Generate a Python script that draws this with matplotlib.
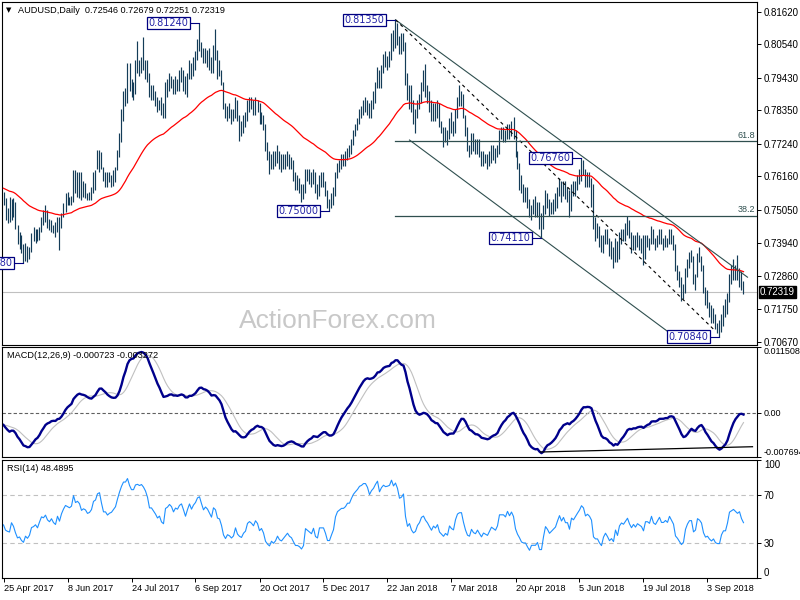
import numpy as np
import pandas as pd
import matplotlib
matplotlib.use('Agg')
import matplotlib.pyplot as plt
from matplotlib.transforms import blended_transform_factory

plt.rcParams['font.family'] = ['Liberation Sans', 'DejaVu Sans']

# AUDUSD daily bars, 25 Apr 2017 .. 27 Sep 2018, prices in pips (x 1e-4)
highs = [
    7563, 7545, 7510, 7547, 7540, 7544, 7530, 7455, 7430, 7420,
    7390, 7394, 7385, 7380, 7427, 7447, 7440, 7440, 7447, 7480,
    7503, 7520, 7503, 7475, 7470, 7454, 7464, 7480, 7480, 7495,
    7527, 7560, 7563, 7547, 7550, 7636, 7636, 7630, 7630, 7630,
    7600, 7595, 7560, 7562, 7580, 7630, 7636, 7703, 7703, 7695,
    7646, 7630, 7630, 7630, 7620, 7636, 7646, 7703, 7760, 7840,
    7900, 7910, 7990, 7990, 7940, 7930, 8000, 8065, 8000, 8010,
    8078, 8000, 8000, 7960, 7920, 7920, 7900, 7880, 7870, 7880,
    7860, 7930, 7940, 7960, 7950, 7940, 7950, 7940, 7970, 7980,
    7970, 7950, 7960, 8000, 7990, 8010, 8030, 8070, 8124, 8060,
    8040, 8040, 8035, 8040, 8010, 8050, 8103, 8035, 8000, 7970,
    7930, 7860, 7850, 7860, 7840, 7840, 7880, 7870, 7820, 7800,
    7820, 7830, 7870, 7880, 7880, 7870, 7880, 7870, 7860, 7830,
    7820, 7790, 7730, 7700, 7690, 7700, 7700, 7720, 7700, 7690,
    7690, 7690, 7700, 7690, 7680, 7670, 7630, 7620, 7610, 7590,
    7590, 7640, 7640, 7640, 7630, 7640, 7630, 7590, 7620, 7630,
    7630, 7600, 7570, 7540, 7560, 7580, 7630, 7660, 7670, 7690,
    7690, 7700, 7710, 7720, 7740, 7770, 7790, 7810, 7840, 7850,
    7870, 7880, 7870, 7860, 7870, 7900, 7930, 7980, 7970, 7985,
    8020, 8030, 8015, 8030, 8090, 8100, 8135, 8124, 8080, 8090,
    8090, 8060, 7960, 7920, 7920, 7870, 7840, 7870, 7890, 7930,
    7968, 7988, 7920, 7900, 7870, 7860, 7860, 7870, 7860, 7800,
    7780, 7780, 7770, 7810, 7830, 7800, 7840, 7880, 7917, 7900,
    7890, 7820, 7780, 7720, 7760, 7760, 7740, 7740, 7740, 7700,
    7700, 7690, 7690, 7700, 7720, 7720, 7710, 7720, 7770, 7780,
    7780, 7770, 7790, 7790, 7800, 7813, 7770, 7700, 7660, 7620,
    7590, 7580, 7580, 7540, 7520, 7540, 7550, 7530, 7530, 7495,
    7520, 7570, 7560, 7540, 7530, 7540, 7560, 7580, 7610, 7600,
    7600, 7600, 7580, 7570, 7590, 7600, 7600, 7620, 7640, 7676,
    7670, 7640, 7630, 7630, 7610, 7590, 7480, 7460, 7450, 7420,
    7420, 7440, 7440, 7410, 7400, 7380, 7410, 7400, 7430, 7440,
    7440, 7460, 7484, 7470, 7430, 7420, 7420, 7430, 7420, 7410,
    7420, 7420, 7420, 7410, 7450, 7440, 7410, 7420, 7440, 7440,
    7410, 7420, 7410, 7440, 7440, 7420, 7390, 7320, 7300, 7280,
    7260, 7310, 7340, 7366, 7370, 7350, 7290, 7360, 7381, 7350,
    7320, 7250, 7240, 7200, 7190, 7180, 7160, 7130, 7140, 7160,
    7190, 7210, 7230, 7290, 7320, 7340, 7320, 7355, 7310, 7300,
    7268,
]
lows = [
    7520, 7470, 7462, 7464, 7470, 7480, 7440, 7390, 7375, 7360,
    7328, 7335, 7330, 7340, 7364, 7400, 7394, 7400, 7405, 7430,
    7454, 7464, 7445, 7437, 7430, 7427, 7415, 7430, 7370, 7445,
    7480, 7497, 7520, 7520, 7520, 7530, 7560, 7547, 7545, 7537,
    7547, 7544, 7537, 7537, 7537, 7560, 7570, 7640, 7630, 7640,
    7600, 7580, 7580, 7597, 7580, 7583, 7597, 7636, 7680, 7730,
    7800, 7850, 7860, 7900, 7880, 7870, 7890, 7960, 7950, 7960,
    7970, 7940, 7930, 7880, 7870, 7870, 7850, 7830, 7836, 7820,
    7808, 7810, 7880, 7900, 7910, 7890, 7890, 7900, 7900, 7930,
    7900, 7890, 7880, 7940, 7940, 7950, 7970, 8000, 8030, 8010,
    7990, 7990, 7980, 7970, 7960, 7960, 8000, 7940, 7950, 7920,
    7840, 7810, 7800, 7810, 7790, 7800, 7810, 7800, 7733, 7750,
    7760, 7780, 7800, 7830, 7840, 7820, 7820, 7830, 7790, 7790,
    7770, 7700, 7670, 7625, 7640, 7640, 7650, 7660, 7640, 7630,
    7640, 7640, 7650, 7640, 7640, 7600, 7570, 7570, 7560, 7530,
    7540, 7560, 7600, 7590, 7580, 7590, 7560, 7540, 7550, 7580,
    7580, 7550, 7510, 7500, 7510, 7520, 7550, 7610, 7630, 7640,
    7650, 7650, 7670, 7680, 7690, 7720, 7750, 7770, 7790, 7810,
    7820, 7830, 7820, 7810, 7810, 7840, 7860, 7910, 7910, 7910,
    7960, 7980, 7970, 7980, 8000, 8030, 8040, 8050, 8020, 8020,
    8030, 7920, 7870, 7840, 7830, 7790, 7759, 7810, 7840, 7860,
    7900, 7880, 7860, 7830, 7800, 7800, 7800, 7810, 7780, 7760,
    7712, 7730, 7720, 7740, 7760, 7750, 7760, 7810, 7850, 7850,
    7810, 7750, 7700, 7680, 7690, 7700, 7690, 7690, 7680, 7650,
    7650, 7660, 7640, 7650, 7660, 7670, 7660, 7680, 7690, 7740,
    7730, 7730, 7740, 7740, 7750, 7740, 7680, 7640, 7570, 7560,
    7530, 7530, 7510, 7480, 7470, 7490, 7480, 7480, 7440, 7411,
    7440, 7490, 7510, 7485, 7490, 7490, 7500, 7510, 7550, 7530,
    7550, 7540, 7530, 7480, 7500, 7550, 7550, 7570, 7590, 7600,
    7620, 7580, 7580, 7580, 7515, 7440, 7400, 7410, 7380, 7365,
    7360, 7390, 7390, 7350, 7340, 7310, 7330, 7330, 7340, 7390,
    7400, 7400, 7420, 7410, 7360, 7370, 7370, 7380, 7370, 7360,
    7320, 7340, 7380, 7370, 7390, 7390, 7370, 7380, 7390, 7390,
    7370, 7380, 7380, 7390, 7390, 7370, 7300, 7270, 7250, 7202,
    7210, 7230, 7280, 7310, 7330, 7260, 7240, 7280, 7330, 7300,
    7230, 7190, 7180, 7150, 7130, 7130, 7110, 7095, 7084, 7100,
    7120, 7150, 7160, 7200, 7260, 7270, 7270, 7270, 7250, 7240,
    7225,
]
closes = [
    7530, 7490, 7480, 7475, 7525, 7500, 7448, 7400, 7405, 7370,
    7350, 7380, 7360, 7375, 7415, 7420, 7430, 7410, 7440, 7470,
    7465, 7480, 7455, 7445, 7460, 7440, 7430, 7470, 7445, 7485,
    7515, 7540, 7535, 7530, 7540, 7620, 7590, 7600, 7590, 7560,
    7570, 7565, 7550, 7555, 7570, 7620, 7630, 7680, 7690, 7650,
    7610, 7610, 7595, 7605, 7610, 7625, 7640, 7690, 7750, 7820,
    7890, 7890, 7960, 7930, 7910, 7910, 7980, 7990, 7985, 8000,
    7990, 7975, 7950, 7900, 7900, 7885, 7870, 7850, 7860, 7830,
    7820, 7910, 7920, 7940, 7930, 7905, 7930, 7925, 7950, 7960,
    7935, 7905, 7945, 7985, 7960, 7990, 8010, 8050, 8060, 8030,
    8000, 8020, 8010, 7990, 7970, 8030, 8020, 7975, 7970, 7930,
    7855, 7820, 7840, 7830, 7810, 7820, 7860, 7810, 7790, 7780,
    7800, 7810, 7850, 7860, 7850, 7835, 7860, 7845, 7800, 7810,
    7780, 7710, 7680, 7660, 7680, 7660, 7670, 7690, 7660, 7650,
    7660, 7670, 7680, 7660, 7650, 7620, 7590, 7590, 7580, 7560,
    7570, 7630, 7620, 7610, 7600, 7620, 7570, 7560, 7600, 7600,
    7600, 7570, 7520, 7520, 7540, 7560, 7620, 7650, 7660, 7670,
    7670, 7680, 7700, 7700, 7730, 7760, 7780, 7800, 7830, 7840,
    7860, 7860, 7850, 7830, 7860, 7880, 7920, 7960, 7925, 7970,
    8000, 7995, 8000, 8010, 8080, 8060, 8100, 8080, 8040, 8050,
    8080, 7960, 7880, 7900, 7840, 7810, 7820, 7860, 7880, 7920,
    7930, 7900, 7880, 7850, 7820, 7845, 7830, 7850, 7790, 7770,
    7750, 7765, 7750, 7800, 7780, 7770, 7830, 7870, 7880, 7880,
    7820, 7760, 7710, 7700, 7740, 7710, 7700, 7720, 7690, 7660,
    7680, 7670, 7660, 7680, 7700, 7690, 7680, 7700, 7760, 7760,
    7760, 7750, 7780, 7760, 7780, 7760, 7690, 7650, 7620, 7580,
    7570, 7570, 7530, 7490, 7510, 7510, 7510, 7520, 7450, 7450,
    7500, 7550, 7530, 7500, 7510, 7520, 7530, 7560, 7590, 7560,
    7580, 7550, 7550, 7510, 7570, 7560, 7580, 7600, 7620, 7650,
    7640, 7600, 7610, 7600, 7580, 7460, 7440, 7440, 7400, 7370,
    7410, 7430, 7400, 7360, 7370, 7340, 7400, 7350, 7410, 7430,
    7420, 7440, 7460, 7420, 7390, 7410, 7390, 7410, 7400, 7390,
    7360, 7410, 7410, 7400, 7440, 7400, 7390, 7410, 7430, 7400,
    7400, 7410, 7400, 7430, 7410, 7390, 7310, 7290, 7260, 7230,
    7240, 7300, 7330, 7350, 7350, 7270, 7280, 7350, 7340, 7320,
    7240, 7195, 7200, 7170, 7150, 7160, 7120, 7110, 7110, 7150,
    7170, 7170, 7210, 7280, 7290, 7300, 7290, 7280, 7290, 7255,
    7232,
]

date_labels = ['25 Apr 2017', '8 Jun 2017', '24 Jul 2017', '6 Sep 2017',
               '20 Oct 2017', '5 Dec 2017', '22 Jan 2018', '7 Mar 2018',
               '20 Apr 2018', '5 Jun 2018', '19 Jul 2018', '3 Sep 2018']
label_step = 32  # bars between date labels

price_ticks = [0.81620, 0.80540, 0.79430, 0.78350, 0.77240, 0.76160,
               0.75050, 0.73940, 0.72860, 0.71750, 0.70670]
macd_ticks = [-0.007694, 0.0, 0.011508]
rsi_ticks = [0, 30, 70, 100]

# indicator values at the first bar
ma_start = 0.7576
ema12_start, ema26_start = 0.7566, 0.7587
rsi_start = 45.0

# labelled swing points: (text, bar index, price)
swings = [('0.73280', 10, 0.7328), ('0.81240', 98, 0.8124),
          ('0.75000', 163, 0.7500), ('0.81350', 196, 0.8135),
          ('0.74110', 269, 0.7411), ('0.76760', 289, 0.7676),
          ('0.70840', 358, 0.7084)]

# drawn objects, anchors as (bar index, value)
upper_channel = [(196, 0.8135), (372, 0.7281)]
lower_channel = [(203, 0.7736), (340, 0.7062)]
dashed_trend = [(196, 0.8135), (356, 0.7102)]
fib_high, fib_low, fib_start = 0.8135, 0.7084, 196
fib_levels = [0.382, 0.618]
macd_support = [(268.5, -0.00682), (374.5, -0.00590)]

last_price = 0.72319

# ---------------------------------------------------------------
hi = np.array(highs) / 1e4
lo = np.array(lows) / 1e4
cl = np.array(closes) / 1e4
n = len(cl)
assert len(hi) == n and len(lo) == n
idx = np.arange(n)


def ema(x, period, start):
    out = np.empty(len(x))
    a = 2.0 / (period + 1)
    out[0] = start
    for i in range(1, len(x)):
        out[i] = out[i - 1] + a * (x[i] - out[i - 1])
    return out


ma = ema(cl, 55, ma_start)
macd = ema(cl, 12, ema12_start) - ema(cl, 26, ema26_start)
signal = pd.Series(np.r_[np.full(8, macd[0]), macd]).rolling(9).mean().values[8:]

diff = np.diff(cl, prepend=cl[0])
avg_move = np.abs(np.diff(cl[:15])).mean()
ag = avg_move * rsi_start / 100
al = avg_move * (1 - rsi_start / 100)
rsi = np.empty(n)
rsi[0] = rsi_start
for i in range(1, n):
    ag = (ag * 13 + max(diff[i], 0)) / 14
    al = (al * 13 + max(-diff[i], 0)) / 14
    rsi[i] = 100 - 100 / (1 + ag / al)

# ---------------------------------------------------------------
W, H = 800, 600
fig = plt.figure(figsize=(W / 100, H / 100), dpi=100)
fig.patch.set_facecolor('white')


def px_axes(x0, y0, x1, y1):
    return fig.add_axes([x0 / W, 1 - y1 / H, (x1 - x0) / W, (y1 - y0) / H])


ax1 = px_axes(2, 2, 757, 345)
ax2 = px_axes(2, 347, 757, 457)
ax3 = px_axes(2, 460, 757, 578)

bar_col = '#143c58'
slate = '#2f4f4f'
lbl_fs = 7

for ax in (ax1, ax2, ax3):
    ax.set_xlim(-0.75, 376.75)
    for s in ax.spines.values():
        s.set_linewidth(0.8)
        s.set_color('black')
    ax.yaxis.tick_right()
    ax.tick_params(axis='y', labelsize=lbl_fs, length=3, width=0.7,
                   direction='out', pad=2)
    ax.tick_params(axis='x', bottom=False, labelbottom=False)
ax2.tick_params(axis='y', labelsize=6.5)

# --- price panel
ax1.set_ylim(0.7056, 0.8194)
ax1.vlines(idx, lo, hi, color=bar_col, lw=0.85, zorder=3)
ax1.plot(idx, ma, color='red', lw=0.9, zorder=4)
ax1.axhline(last_price, color='#c0c0c0', lw=0.8, zorder=1)

ax1.text(0.445, 0.07, 'ActionForex.com', transform=ax1.transAxes,
         ha='center', va='center', fontsize=19, color='#c8c8c8', zorder=0)

for line, ls, col in [(upper_channel, '-', slate), (lower_channel, '-', slate),
                      (dashed_trend, (0, (3, 3)), 'black')]:
    (xa, ya), (xb, yb) = line
    ax1.plot([xa, xb], [ya, yb], color=col, lw=0.8, ls=ls, zorder=5)

xr = blended_transform_factory(ax1.transAxes, ax1.transData)
for lev in fib_levels:
    p = fib_low + lev * (fib_high - fib_low)
    ax1.plot([fib_start, 377], [p, p], color=slate, lw=0.9, zorder=5)
    ax1.text(0.997, p + 0.0004, f'{lev * 100:.1f}', transform=xr, ha='right',
             va='bottom', fontsize=6.5, color=slate)

for txt, i, p in swings:
    ax1.plot([i - 5, i], [p, p], color='#000080', lw=0.8, zorder=6)
    t = ax1.text(i - 5.5, p, txt, ha='right', va='center', fontsize=7,
                 family='DejaVu Sans', color='#2323a6', zorder=7,
                 bbox=dict(boxstyle='square,pad=0.12', fc='white',
                           ec='#000080', lw=0.9))
    t.set_clip_path(ax1.patch)

ax1.set_yticks(price_ticks)
ax1.set_yticklabels([f'{v:.5f}' for v in price_ticks])
ax1.text(1.004, last_price, f'{last_price:.5f}', transform=xr, ha='left',
         va='center', fontsize=lbl_fs, color='white', zorder=8, clip_on=False,
         bbox=dict(boxstyle='square,pad=0.15', fc='black', ec='black'))

# --- MACD panel
ax2.set_ylim(macd_ticks[0], macd_ticks[-1])
ax2.axhline(0, color='#606060', lw=0.8, ls=(0, (3, 2)))
ax2.plot(idx, signal, color='#c0c0c0', lw=0.8)
ax2.plot(idx, macd, color='#00008b', lw=1.7)
(xa, ya), (xb, yb) = macd_support
ax2.plot([xa, xb], [ya, yb], color='black', lw=0.9)
ax2.set_yticks(macd_ticks)
ax2.set_yticklabels(['-0.007694', '0.00', '0.011508'])
tl = ax2.get_yticklabels()
tl[0].set_va('bottom')
tl[2].set_va('top')

# --- RSI panel
ax3.set_ylim(0, 100)
for lev in (30, 70):
    ax3.axhline(lev, color='#c0c0c0', lw=0.8, ls=(0, (4, 3)))
ax3.plot(idx, rsi, color='#1e90ff', lw=0.8)
ax3.set_yticks(rsi_ticks)
ax3.set_yticklabels([str(v) for v in rsi_ticks])
tl = ax3.get_yticklabels()
tl[0].set_va('bottom')
tl[3].set_va('top')

ax3.tick_params(axis='x', bottom=True, labelbottom=True, length=3, width=0.7,
                direction='out', pad=1.5, labelsize=6.6)
ax3.set_xticks(np.arange(len(date_labels)) * label_step)
ax3.set_xticklabels(date_labels)
for t in ax3.get_xticklabels():
    t.set_ha('left')

# --- header texts
fig.text(6 / W, 1 - 10.5 / H, '\u25bc', fontsize=5, va='center', ha='left',
         family=['DejaVu Sans'])
fig.text(18 / W, 1 - 10.5 / H, 'AUDUSD,Daily  0.72546 0.72679 0.72251 0.72319',
         fontsize=6.6, va='center', ha='left')
fig.text(7 / W, 1 - 355.5 / H, 'MACD(12,26,9) -0.000723 -0.003272',
         fontsize=6.6, va='center', ha='left')
fig.text(7 / W, 1 - 468.5 / H, 'RSI(14) 48.4895', fontsize=6.6,
         va='center', ha='left')

fig.savefig('out.png', dpi=100)
